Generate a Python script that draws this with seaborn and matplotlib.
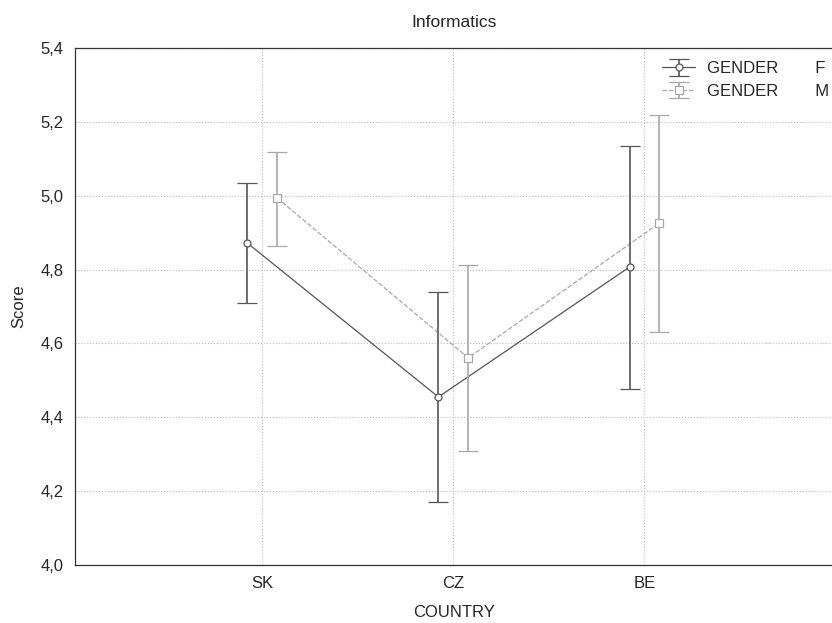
import numpy as np
import pandas as pd
import seaborn as sns
import matplotlib.pyplot as plt
from matplotlib.lines import Line2D

# values
countries = ['SK', 'CZ', 'BE']
f_mean = [4.872, 4.455, 4.807]
f_low = [4.709, 4.171, 4.477]
f_high = [5.034, 4.739, 5.135]
m_mean = [4.994, 4.561, 4.926]
m_low = [4.864, 4.309, 4.631]
m_high = [5.119, 4.812, 5.219]

sns.set_style("white")
plt.rcParams['font.family'] = ['Liberation Sans', 'DejaVu Sans']

fig = plt.figure(figsize=(8.32, 6.23), dpi=100)
ax = fig.add_axes([0.090, 0.093, 0.912, 0.830])

pos = np.arange(len(countries))
shift = 0.078

groups = [
    ('F', f_mean, f_low, f_high, -shift, '#555555', '-', 'o', 5),
    ('M', m_mean, m_low, m_high, shift, '#a8a8a8', '--', 's', 6),
]

handles = []
for g, mean, low, high, off, col, ls, mk, ms in groups:
    df = pd.DataFrame({'x': pos + off, 'y': mean})
    sns.lineplot(data=df, x='x', y='y', ax=ax, color=col, linestyle=ls,
                 linewidth=0.9, marker=None, legend=False)
    mean = np.array(mean)
    err = [mean - np.array(low), np.array(high) - mean]
    h = ax.errorbar(pos + off, mean, yerr=err, fmt=mk, ms=ms, mfc='white',
                    mec=col, mew=0.9, ecolor=col, elinewidth=1.2,
                    capsize=7, capthick=1.2, color=col, linestyle='none', zorder=3)
    # legend shows the connecting line under the errorbar glyph
    proxy = Line2D([], [], color=col, linestyle=ls, linewidth=0.9)
    handles.append((proxy, h))

ax.set_xlim(-0.98, 2.99)
ax.set_ylim(4.0, 5.4)
ax.set_xticks(pos)
ax.set_xticklabels(countries)
yt = np.arange(4.0, 5.41, 0.2)
ax.set_yticks(yt)
ax.set_yticklabels([f'{v:.1f}'.replace('.', ',') for v in yt])
ax.tick_params(direction='in', length=4, labelsize=12, color='#333333')
ax.tick_params(axis='y', pad=8)
ax.tick_params(axis='x', pad=8)
ax.grid(True, linestyle=':', color='#bbbbbb', linewidth=0.8)
for s in ax.spines.values():
    s.set_color('#333333')
    s.set_linewidth(0.9)

ax.set_xlabel('COUNTRY', fontsize=12, labelpad=10)
ax.set_ylabel('Score', fontsize=12, labelpad=10)
ax.set_title('Informatics', fontsize=12.5, pad=15)

ax.legend(handles, ['GENDER        F', 'GENDER        M'], loc='upper left',
          bbox_to_anchor=(0.756, 1.0), frameon=False, fontsize=12,
          handlelength=2.0, handletextpad=0.7, borderaxespad=0.4,
          labelspacing=0.45)

plt.savefig('out.png', dpi=100)
